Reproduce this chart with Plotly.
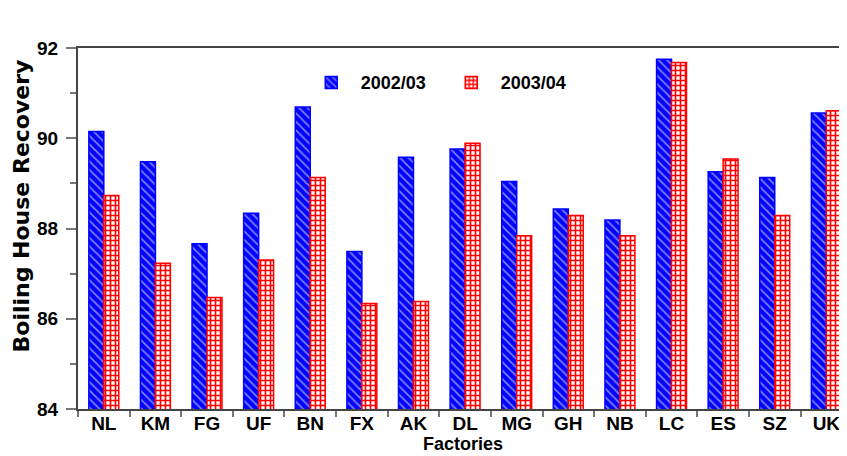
import plotly.graph_objects as go

factories = ["NL", "KM", "FG", "UF", "BN", "FX", "AK", "DL", "MG", "GH", "NB", "LC", "ES", "SZ", "UK"]
rec_2002_03 = [90.15, 89.48, 87.66, 88.34, 90.69, 87.49, 89.58, 89.76, 89.04, 88.43, 88.19, 91.75, 89.26, 89.13, 90.56]
rec_2003_04 = [88.73, 87.23, 86.47, 87.30, 89.13, 86.34, 86.38, 89.89, 87.84, 88.29, 87.84, 91.68, 89.54, 88.29, 90.61]
series_names = ["2002/03", "2003/04"]
y_ticks = [84, 86, 88, 90, 92]

FONT = "Liberation Sans, Arial, sans-serif"
AXC = "#444444"
TKC = "#777777"

fig = go.Figure()
fig.add_trace(go.Bar(
    x=factories, y=rec_2002_03, name=series_names[0],
    marker=dict(color="blue", line=dict(color="blue", width=1.5),
                pattern=dict(shape="\\", fgcolor="white", bgcolor="blue",
                             size=6, solidity=0.3, fillmode="overlay")),
))
fig.add_trace(go.Bar(
    x=factories, y=rec_2003_04, name=series_names[1],
    marker=dict(color="red", line=dict(color="red", width=1.5),
                pattern=dict(shape="+", fgcolor="red", bgcolor="white",
                             size=5, solidity=0.55, fillmode="replace")),
))

# the page body has an 8px margin, so the figure is sized to the remaining window
fig.update_layout(
    width=839, height=448,
    margin=dict(l=70, r=0, t=40, b=47),
    paper_bgcolor="white", plot_bgcolor="white",
    barmode="group", bargap=0.42, bargroupgap=0,
    showlegend=True,
    legend=dict(orientation="h", x=0.291, y=0.955, xanchor="left", yanchor="top",
                bgcolor="rgba(0,0,0,0)", itemwidth=49,
                entrywidth=76, entrywidthmode="pixels",
                font=dict(family=FONT, size=18, color="black", weight="bold")),
    font=dict(family=FONT, color="black"),
)

fig.update_xaxes(
    range=[-0.5, 14.4], showline=True, linecolor=AXC, linewidth=2,
    mirror=True, ticks="outside", tickson="boundaries", ticklen=6,
    tickcolor=TKC, tickwidth=1.5, showgrid=False, ticklabelstandoff=-4,
    tickfont=dict(family=FONT, size=19, color="black", weight="bold"),
)
fig.update_yaxes(
    range=[84, 92], tickvals=y_ticks, showline=True, linecolor=AXC, linewidth=2,
    ticks="outside", ticklen=10, tickcolor=TKC, tickwidth=1.5,
    showgrid=False, zeroline=False, ticklabelstandoff=4,
    minor=dict(dtick=1, ticks="outside", ticklen=6, tickcolor=TKC, tickwidth=1.5, showgrid=False),
    tickfont=dict(family=FONT, size=19, color="black", weight="bold"),
)

fig.add_annotation(
    text="Factories", xref="paper", yref="paper", x=0.5, y=0, yshift=-35,
    xanchor="center", yanchor="middle", showarrow=False,
    font=dict(family=FONT, size=18, color="black", weight="bold"),
)
fig.add_annotation(
    text="Boiling House Recovery", xref="paper", yref="paper",
    x=0, xshift=-57, y=0, yshift=(409 - 355),
    xanchor="center", yanchor="bottom", textangle=-90, showarrow=False,
    font=dict(family="DejaVu Sans, sans-serif", size=22, color="black", weight="bold"),
)

fig.write_html("out.html")
